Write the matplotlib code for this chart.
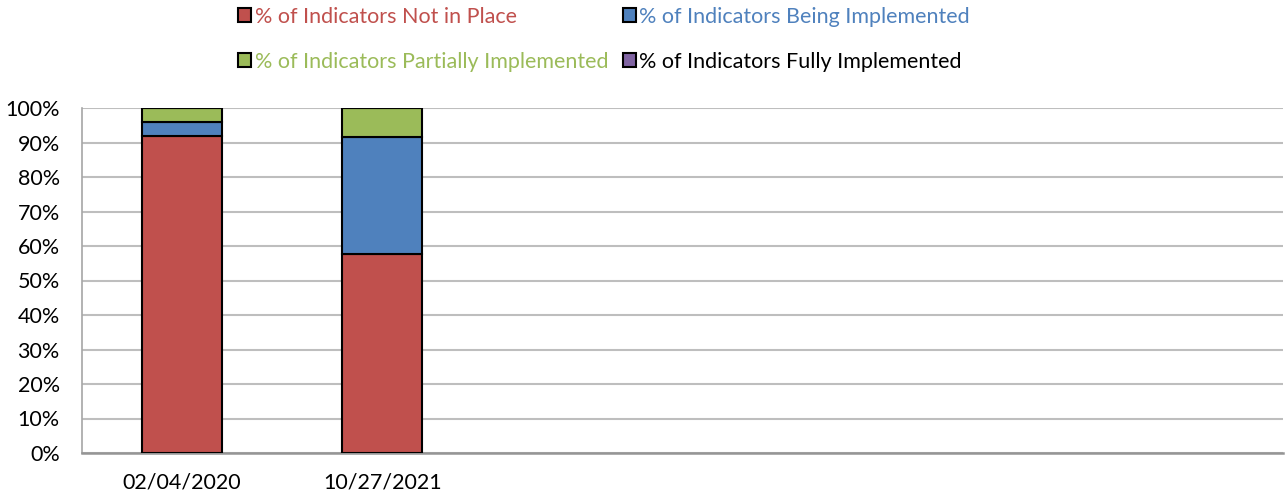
import matplotlib.pyplot as plt
import numpy as np

# Values (percent of indicators)
dates = ['02/04/2020', '10/27/2021']
not_in_place = [92.0, 57.7]
being_impl = [4.0, 33.8]
partially_impl = [4.0, 8.5]
fully_impl = [0.0, 0.0]

labels = ['% of Indicators Not in Place', '% of Indicators Being Implemented',
          '% of Indicators Partially Implemented', '% of Indicators Fully Implemented']
colors = ['#C0504D', '#4F81BD', '#9BBB59', '#8064A2']
text_colors = ['#C0504D', '#4F81BD', '#9BBB59', 'black']

plt.rcParams['font.family'] = ['Lato', 'DejaVu Sans']

fig = plt.figure(figsize=(12.85, 5), dpi=100)
ax = fig.add_axes([82 / 1285, 47 / 500, 1201 / 1285, 345 / 500])

x = np.arange(len(dates))
series = [not_in_place, being_impl, partially_impl, fully_impl]
bottom = np.zeros(len(dates))
handles = []
for vals, c, lab in zip(series, colors, labels):
    vals = np.array(vals)
    b = ax.bar(x, vals, 0.4, bottom=bottom, color=c, edgecolor='black',
               linewidth=1.5, label=lab, zorder=3)
    handles.append(b)
    bottom += vals

ax.set_xlim(-0.5, 5.5)
ax.set_ylim(0, 100)
ax.set_yticks(np.arange(0, 101, 10))
ax.set_yticklabels([f'{v}%' for v in range(0, 101, 10)])
ax.set_xticks(x)
ax.set_xticklabels(dates)
ax.tick_params(axis='y', length=0, pad=16, labelsize=15.5)
ax.tick_params(axis='x', length=0, pad=14, labelsize=15.5)
ax.grid(axis='y', color='#BEBEBE', linewidth=1.5, zorder=0)
for s in ['top', 'right']:
    ax.spines[s].set_visible(False)
ax.spines['left'].set_color('#A6A6A6')
ax.spines['left'].set_linewidth(1.2)
ax.spines['bottom'].set_color('#959595')
ax.spines['bottom'].set_linewidth(1.8)

# legend: column order so that rows read red/blue then green/purple
order = [0, 2, 1, 3]
leg = fig.legend([handles[i] for i in order], [labels[i] for i in order],
                 ncol=2, loc='upper left', bbox_to_anchor=(219 / 1285, 1.025),
                 frameon=False, fontsize=15.5, handlelength=0.6, handleheight=0.6,
                 handletextpad=0.15, columnspacing=0.7, labelspacing=1.15,
                 labelcolor=[text_colors[i] for i in order])

fig.savefig('out.png', dpi=100)
